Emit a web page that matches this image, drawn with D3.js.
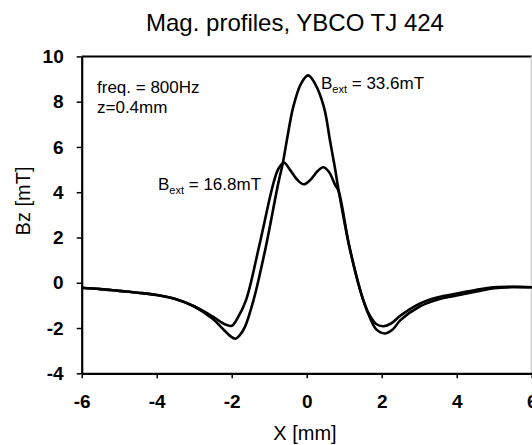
<!DOCTYPE html>
<html><head><meta charset="utf-8">
<script src="https://cdn.jsdelivr.net/npm/d3@7"></script>
<style>
body{margin:0;background:#fff;}
svg text{font-family:"Liberation Sans",Arial,sans-serif;fill:#000;}
</style></head>
<body><svg id="c" width="532" height="445"></svg>
<script>
const xTicks=[-6,-4,-2,0,2,4,6];
const yTicks=[-4,-2,0,2,4,6,8,10];
// Bext = 33.6 mT
const xA=[-6,-5.5,-5,-4.5,-4,-3.5,-3,-2.5,-2.2,-2.0,-1.9,-1.8,-1.65,-1.42,-1.11,-0.76,-0.64,-0.53,-0.36,-0.15,0.04,0.22,0.46,0.62,0.75,0.85,1.15,1.51,1.7,1.85,2.08,2.3,2.5,3,3.5,4,4.5,5,5.5,6];
const yA=[-0.22,-0.28,-0.36,-0.44,-0.54,-0.72,-1.05,-1.6,-2.1,-2.4,-2.47,-2.35,-1.96,-0.78,1.43,4.38,5.26,6.29,7.76,8.8,9.16,8.8,7.76,6.3,5.1,4.1,1.5,-0.78,-1.6,-2.05,-2.24,-2.05,-1.65,-1.06,-0.74,-0.56,-0.4,-0.24,-0.19,-0.2];
// Bext = 16.8 mT
const xB=[-6,-5.5,-5,-4.5,-4,-3.5,-3,-2.5,-2.2,-2.0,-1.85,-1.62,-1.27,-0.89,-0.75,-0.6,-0.45,-0.25,-0.08,0.1,0.3,0.45,0.6,0.75,0.85,1.15,1.51,1.7,1.85,2.04,2.25,2.5,3,3.5,4,4.5,5,5.5,6];
const yB=[-0.22,-0.28,-0.36,-0.44,-0.54,-0.72,-1.04,-1.5,-1.82,-1.9,-1.58,-0.78,1.6,4.38,5.05,5.3,5.0,4.55,4.35,4.55,4.95,5.1,4.88,4.35,4.05,1.5,-0.78,-1.5,-1.82,-1.92,-1.8,-1.45,-0.93,-0.64,-0.48,-0.32,-0.2,-0.18,-0.2];

const svg=d3.select("#c");
const L=81.7,R=531.7,T=56.4,B=373.3;
const x=d3.scaleLinear().domain([-6,6]).range([L,R]);
const y=d3.scaleLinear().domain([-4,10]).range([B,T]);

// frame top/right
svg.append("line").attr("x1",L).attr("x2",R).attr("y1",T).attr("y2",T).attr("stroke","#000").attr("stroke-width",2);
svg.append("line").attr("x1",R-0.5).attr("x2",R-0.5).attr("y1",T).attr("y2",B).attr("stroke","#bbb").attr("stroke-width",1);

const fmt=d=>String(d);
const xa=svg.append("g").attr("transform",`translate(0,${B})`)
  .call(d3.axisBottom(x).tickValues(xTicks).tickFormat(fmt).tickSize(5).tickSizeOuter(0).tickPadding(16));
const ya=svg.append("g").attr("transform",`translate(${L},0)`)
  .call(d3.axisLeft(y).tickValues(yTicks).tickFormat(fmt).tickSize(5).tickSizeOuter(0).tickPadding(13));
[xa,ya].forEach(g=>{
  g.select(".domain").attr("stroke","#000").attr("stroke-width",2.2);
  g.selectAll(".tick line").attr("stroke","#000").attr("stroke-width",1.5);
  g.selectAll(".tick text").attr("font-size",19).attr("font-weight","bold").attr("font-family","Liberation Sans, Arial, sans-serif");
});

const line=d3.line().x(d=>x(d[0])).y(d=>y(d[1])).curve(d3.curveCatmullRom.alpha(0.5));
svg.append("path").datum(xA.map((v,i)=>[v,yA[i]])).attr("d",line).attr("fill","none").attr("stroke","#000").attr("stroke-width",2.6);
svg.append("path").datum(xB.map((v,i)=>[v,yB[i]])).attr("d",line).attr("fill","none").attr("stroke","#000").attr("stroke-width",2.6);

svg.append("text").attr("x",295).attr("y",31).attr("text-anchor","middle").attr("font-size",24).text("Mag. profiles, YBCO TJ 424");
svg.append("text").attr("x",305).attr("y",440).attr("text-anchor","middle").attr("font-size",20).text("X [mm]");
svg.append("text").attr("transform","translate(30,201) rotate(-90)").attr("text-anchor","middle").attr("font-size",20).text("Bz [mT]");

svg.append("text").attr("x",97).attr("y",93).attr("font-size",17).text("freq. = 800Hz");
svg.append("text").attr("x",97).attr("y",113).attr("font-size",17).text("z=0.4mm");

function bext(tx,ty,val){
  const t=svg.append("text").attr("x",tx).attr("y",ty).attr("font-size",17);
  t.append("tspan").text("B");
  t.append("tspan").attr("font-size",11).attr("dy",4).text("ext");
  t.append("tspan").attr("dy",-4).text(" = "+val);
}
bext(321,89,"33.6mT");
bext(158,190,"16.8mT");
</script></body></html>
